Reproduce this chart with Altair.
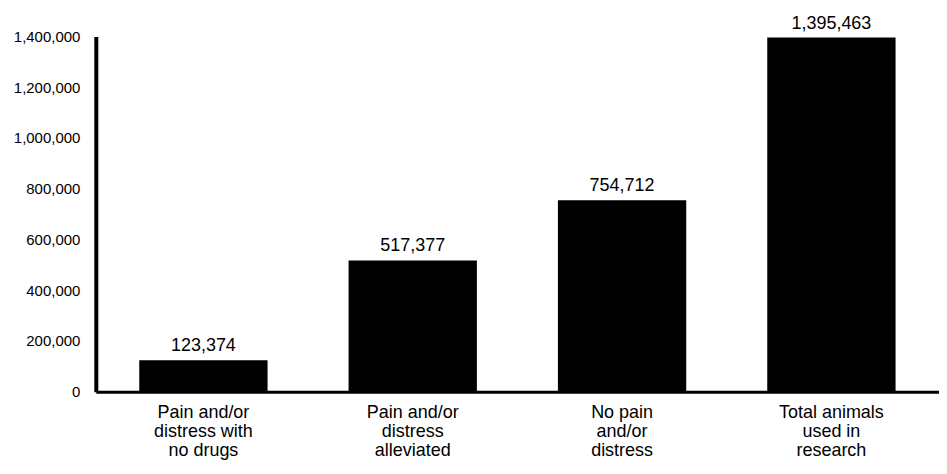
import altair as alt
import pandas as pd

categories = [
    "Pain and/or\ndistress with\nno drugs",
    "Pain and/or\ndistress\nalleviated",
    "No pain\nand/or\ndistress",
    "Total animals\nused in\nresearch",
]
values = [123374, 517377, 754712, 1395463]
y_ticks = [0, 200000, 400000, 600000, 800000, 1000000, 1200000, 1400000]

df = pd.DataFrame({"category": categories, "value": values})

FONT = "Liberation Sans"

x_enc = alt.X(
    "category:N",
    sort=categories,
    title=None,
    scale=alt.Scale(paddingInner=0.387, paddingOuter=0.2075),
    axis=alt.Axis(
        labelAngle=0,
        labelExpr="split(datum.label, '\\n')",
        labelFontSize=18,
        labelLineHeight=19,
        labelPadding=12,
        labelColor="black",
        labelFont=FONT,
        ticks=False,
        domainColor="black",
        domainWidth=3,
        grid=False,
    ),
)
y_enc = alt.Y(
    "value:Q",
    title=None,
    scale=alt.Scale(domain=[0, 1400000], nice=False),
    axis=alt.Axis(
        values=y_ticks,
        labelExpr="format(datum.value, ',')",
        labelFontSize=15,
        labelPadding=16,
        labelColor="black",
        labelFont=FONT,
        ticks=False,
        domainColor="black",
        domainWidth=4,
        grid=False,
    ),
)

bars = alt.Chart(df).mark_bar(color="black").encode(x=x_enc, y=y_enc)
labels = alt.Chart(df).mark_text(
    baseline="bottom", dy=-5, fontSize=18, font=FONT, color="black"
).encode(
    x=alt.X("category:N", sort=categories),
    y=alt.Y("value:Q"),
    text=alt.Text("value:Q", format=","),
)

chart = (
    alt.layer(bars, labels)
    .properties(
        width=845,
        height=356,
        autosize=alt.AutoSizeParams(type="none"),
        padding={"left": 88, "top": 28, "right": 0, "bottom": 74},
        background="white",
    )
    .configure_view(stroke=None)
)

chart.save("out.html", embed_options={"renderer": "svg", "actions": False})
